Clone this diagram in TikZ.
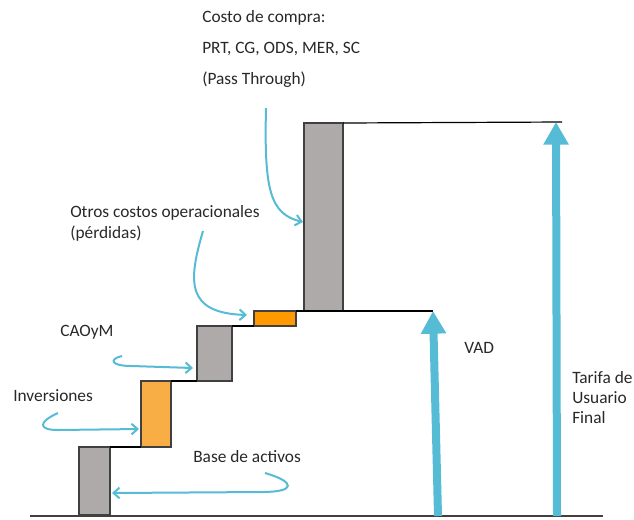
\documentclass[tikz,border=0pt]{standalone}
\usepackage{fontspec}
\setmainfont{Carlito}
\usetikzlibrary{arrows.meta}
\definecolor{boxgray}{RGB}{174,170,169}
\definecolor{lorange}{RGB}{249,174,69}
\definecolor{dorange}{RGB}{255,153,0}
\definecolor{arrblue}{RGB}{86,187,212}
\definecolor{edgegray}{RGB}{64,64,64}
\definecolor{txt}{RGB}{40,40,40}
\begin{document}
\begin{tikzpicture}[x=0.75pt,y=-0.75pt,
  bar/.style={draw=edgegray,line width=1.1pt,inner sep=0pt,outer sep=0pt,anchor=south west},
  stepline/.style={draw=black,line width=0.9pt},
  curv/.style={draw=arrblue,line width=1.5pt,-{Straight Barb[length=4.5pt,width=8pt]}},
  bigarrow/.style={draw=arrblue,line width=6pt,-{Triangle[length=17pt,width=18pt]}},
  lbl/.style={anchor=west,inner sep=0pt,text=txt,font=\fontsize{13}{15}\selectfont}]
\useasboundingbox (0,0) rectangle (634,519);

% bars
\node[bar,fill=boxgray,minimum width=23.25pt,minimum height=51pt] (b1) at (79,515) {};
\node[bar,fill=lorange,minimum width=22.5pt,minimum height=49.5pt] (b2) at (141,447) {};
\node[bar,fill=boxgray,minimum width=26.25pt,minimum height=41.25pt] (b3) at (197,381) {};
\node[bar,fill=dorange,minimum width=31.5pt,minimum height=11.25pt] (b4) at (254,326) {};
\node[bar,fill=boxgray,minimum width=29.25pt,minimum height=141pt] (b5) at (304,311) {};

% coordinates
\coordinate (base0) at (30,516);
\coordinate (base1) at (603,516);
\coordinate (vadbot) at (438,516);
\coordinate (vadtop) at (433,311);
\coordinate (tufbot) at (557,516);
\coordinate (tuftop) at (556,122);
\coordinate (topend) at (562,122);

% step lines
\draw[stepline] (b1.north east) -- (b2.south west);
\draw[stepline] (b2.north east) -- (b3.south west);
\draw[stepline] (b3.north east) -- (b4.south west);
\draw[stepline] (b4.north east) -- (vadtop);
\draw[stepline] (b5.north east) -- (topend);
\draw[draw=edgegray,line width=1.3pt] (base0) -- (base1);

% big arrows
\draw[bigarrow] (vadbot) -- (vadtop);
\draw[bigarrow] (tufbot) -- (tuftop);

% labels
\node[lbl] (t1) at (202,18) {Costo de compra:};
\node[lbl] (t2) at (202,49) {PRT, CG, ODS, MER, SC};
\node[lbl] (t3) at (202,80) {(Pass Through)};
\node[lbl] (o1) at (70,213) {Otros costos operacionales};
\node[lbl] (o2) at (70,234) {(pérdidas)};
\node[lbl] (cao) at (60,332) {CAOyM};
\node[lbl] (inv) at (13,396) {Inversiones};
\node[lbl] (bda) at (193,457) {Base de activos};
\node[lbl] (vad) at (464,348) {VAD};
\node[lbl,align=left] (tuf) at (572,398) {Tarifa de\\Usuario\\Final};

% curved pointers
\coordinate (c1) at (266,108);
\coordinate (e1) at (303,222);
\coordinate (c2) at (203,231);
\coordinate (e2) at (247,315);
\coordinate (c3) at (122,356);
\coordinate (m3) at (132,366);
\coordinate (e3) at (193,368);
\coordinate (c4) at (58,413);
\coordinate (m4) at (58,430);
\coordinate (e4) at (139,429);
\coordinate (c5) at (265,473);
\coordinate (m5) at (262,492);
\coordinate (e5) at (112,493);

\draw[curv] (c1) .. controls (264,190) and (270,214) .. (e1);
\draw[curv] (c2) .. controls (188,282) and (186,313) .. (e2);
\draw[curv] (c3) .. controls (109,359) and (110,366) .. (m3) -- (e3);
\draw[curv] (c4) .. controls (38,422) and (38,430) .. (m4) -- (e4);
\draw[curv] (c5) .. controls (296,482) and (296,492) .. (m5) -- (e5);
\end{tikzpicture}
\end{document}
